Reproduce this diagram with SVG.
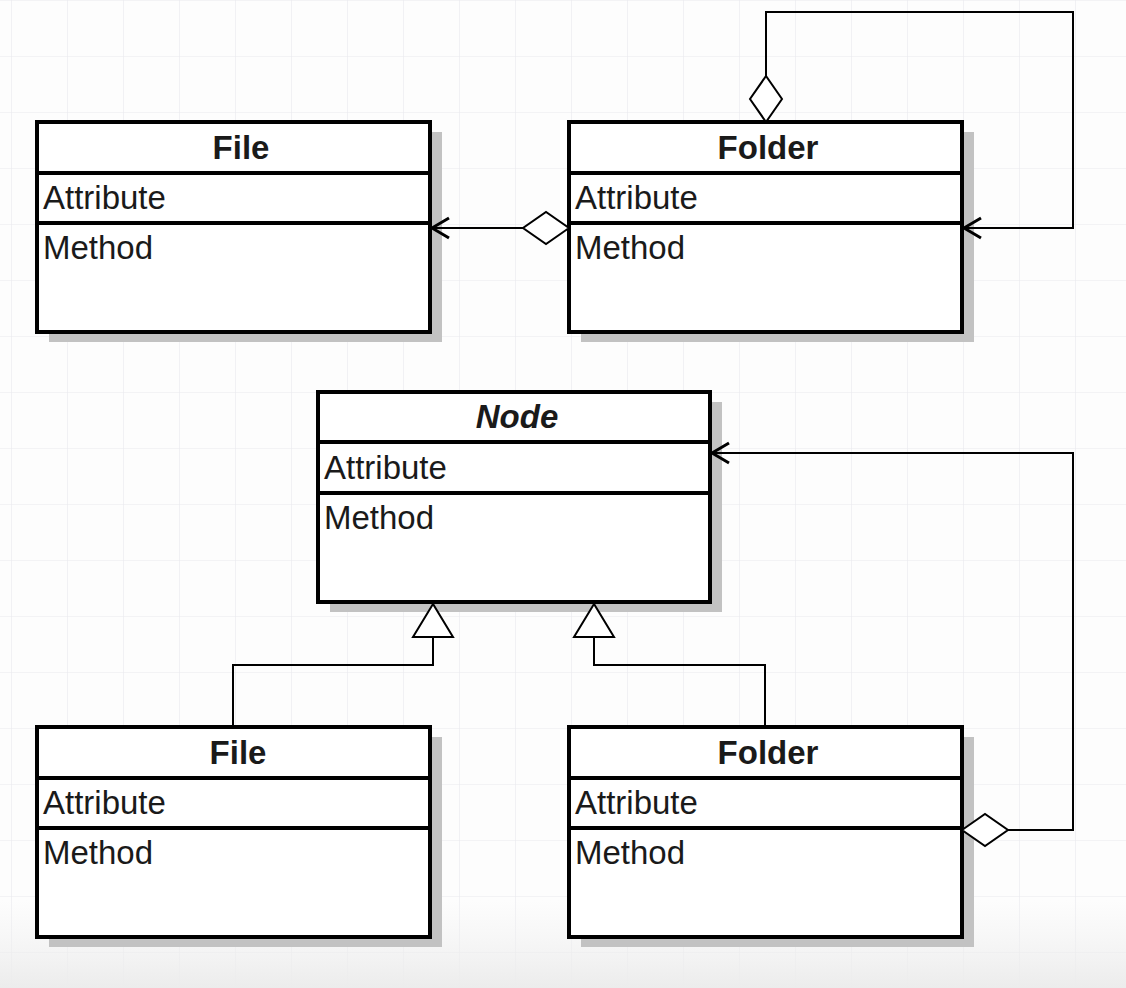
<svg xmlns="http://www.w3.org/2000/svg" width="1126" height="988" viewBox="0 0 1126 988">
<style>
.shadow{fill:#c2c2c2}
.box{fill:#ffffff;stroke:#000;stroke-width:4}
.div{stroke:#000;stroke-width:4}
.title{font-family:"Liberation Sans",Arial,sans-serif;font-size:33px;font-weight:bold;fill:#1a1a1a;text-anchor:middle}
.abs{font-style:italic}
.item{font-family:"Liberation Sans",Arial,sans-serif;font-size:33px;fill:#1a1a1a}
.conn{fill:none;stroke:#000;stroke-width:2}
</style>
<defs>
<pattern id="grid" x="11" y="0" width="56" height="56" patternUnits="userSpaceOnUse">
<path d="M0,0 V56 M0,0 H56" fill="none" stroke="#e9e9ee" stroke-width="1.2"/>
</pattern>
<linearGradient id="bottomFade" x1="0" y1="0" x2="0" y2="1">
<stop offset="0" stop-color="#f0f0f0" stop-opacity="0"/>
<stop offset="1" stop-color="#ececec" stop-opacity="1"/>
</linearGradient>
<marker id="openArrow" viewBox="-20 -12 22 24" refX="0" refY="0" markerWidth="22" markerHeight="24" markerUnits="userSpaceOnUse" orient="auto">
<path d="M-17,-10 L0,0 L-17,10" fill="none" stroke="#000" stroke-width="3"/>
</marker>
<marker id="diamond" viewBox="-2 -18 50 36" refX="0" refY="0" markerWidth="50" markerHeight="36" markerUnits="userSpaceOnUse" orient="auto">
<path d="M0,0 L23,-16 L46,0 L23,16 Z" fill="#fff" stroke="#000" stroke-width="2"/>
</marker>
<marker id="triangle" viewBox="-36 -22 38 44" refX="0" refY="0" markerWidth="38" markerHeight="44" markerUnits="userSpaceOnUse" orient="auto">
<path d="M0,0 L-33,-20 L-33,20 Z" fill="#fff" stroke="#000" stroke-width="2"/>
</marker>
</defs>
<rect width="1126" height="988" fill="#fdfdfd"/>
<rect width="1126" height="988" fill="url(#grid)"/>
<rect x="0" y="900" width="1126" height="88" fill="url(#bottomFade)"/>

<g id="file-top">
<rect class="shadow" x="49" y="132" width="393" height="210"/>
<rect class="box" x="37" y="122" width="393" height="210"/>
<line class="div" x1="37" y1="173" x2="430" y2="173"/>
<line class="div" x1="37" y1="223" x2="430" y2="223"/>
<text class="title" x="241" y="159">File</text>
<text class="item" x="43" y="209">Attribute</text>
<text class="item" x="43" y="259">Method</text>
</g>

<g id="folder-top">
<rect class="shadow" x="581" y="132" width="393" height="210"/>
<rect class="box" x="569" y="122" width="393" height="210"/>
<line class="div" x1="569" y1="173" x2="962" y2="173"/>
<line class="div" x1="569" y1="223" x2="962" y2="223"/>
<text class="title" x="768" y="159">Folder</text>
<text class="item" x="575" y="209">Attribute</text>
<text class="item" x="575" y="259">Method</text>
</g>

<g id="node">
<rect class="shadow" x="330" y="402" width="392" height="210"/>
<rect class="box" x="318" y="392" width="392" height="210"/>
<line class="div" x1="318" y1="442" x2="710" y2="442"/>
<line class="div" x1="318" y1="493" x2="710" y2="493"/>
<text class="title abs" x="517" y="428">Node</text>
<text class="item" x="324" y="479">Attribute</text>
<text class="item" x="324" y="529">Method</text>
</g>

<g id="file-bottom">
<rect class="shadow" x="49" y="737" width="393" height="210"/>
<rect class="box" x="37" y="727" width="393" height="210"/>
<line class="div" x1="37" y1="778" x2="430" y2="778"/>
<line class="div" x1="37" y1="828" x2="430" y2="828"/>
<text class="title" x="238" y="764">File</text>
<text class="item" x="43" y="814">Attribute</text>
<text class="item" x="43" y="864">Method</text>
</g>

<g id="folder-bottom">
<rect class="shadow" x="581" y="737" width="393" height="210"/>
<rect class="box" x="569" y="727" width="393" height="210"/>
<line class="div" x1="569" y1="778" x2="962" y2="778"/>
<line class="div" x1="569" y1="828" x2="962" y2="828"/>
<text class="title" x="768" y="764">Folder</text>
<text class="item" x="575" y="814">Attribute</text>
<text class="item" x="575" y="864">Method</text>
</g>

<g id="connectors">
<path class="conn" d="M569,228 H432" marker-start="url(#diamond)" marker-end="url(#openArrow)"/>
<path class="conn" d="M766,122 V12 H1073 V228 H964" marker-start="url(#diamond)" marker-end="url(#openArrow)"/>
<path class="conn" d="M233,727 V665 H433 V604" marker-end="url(#triangle)"/>
<path class="conn" d="M765,727 V665 H594 V604" marker-end="url(#triangle)"/>
<path class="conn" d="M962,830 H1073 V453 H712" marker-start="url(#diamond)" marker-end="url(#openArrow)"/>
</g>
</svg>
